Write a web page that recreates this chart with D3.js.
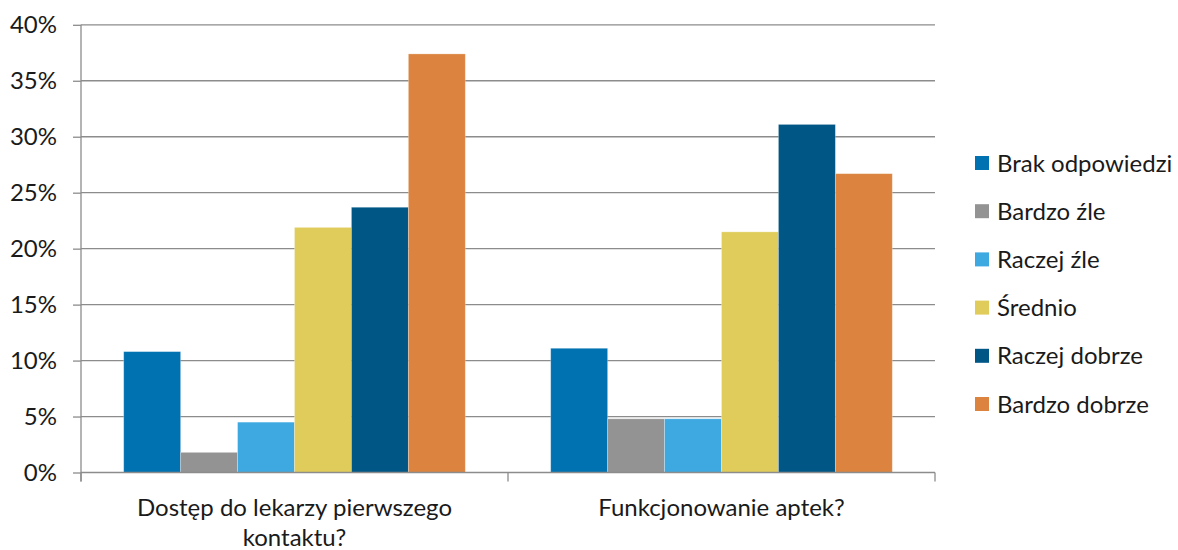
<!DOCTYPE html>
<html><head><meta charset="utf-8">
<script src="https://cdn.jsdelivr.net/npm/d3@7"></script>
<style>body{margin:0;background:#fff}svg{display:block}text{font-family:Lato,"Open Sans",sans-serif;fill:#1a1a1a}</style>
</head><body><svg id="c" width="1178" height="550"></svg>
<script>
const categories = ["Dostęp do lekarzy pierwszego kontaktu?", "Funkcjonowanie aptek?"];
const categoryLines = [["Dostęp do lekarzy pierwszego", "kontaktu?"], ["Funkcjonowanie aptek?"]];
const seriesNames = ["Brak odpowiedzi", "Bardzo źle", "Raczej źle", "Średnio", "Raczej dobrze", "Bardzo dobrze"];
const seriesColors = ["#0071B1", "#939393", "#3EA8E0", "#E0CC5A", "#005685", "#DB833F"];
const valuesDostep = [10.8, 1.8, 4.5, 21.9, 23.7, 37.4];
const valuesApteki = [11.1, 4.8, 4.8, 21.5, 31.1, 26.7];
const yTicks = [0, 5, 10, 15, 20, 25, 30, 35, 40];

const FS = 24;
const values = [valuesDostep, valuesApteki];
const svg = d3.select("#c");
const L = 81, R = 935, T = 24.8, B = 472.5;

const x0 = d3.scaleBand().domain(categories).range([L, R]).paddingInner(0).paddingOuter(0);
const x1 = d3.scaleBand().domain(seriesNames).range([0, x0.bandwidth()]).paddingOuter(0.75).paddingInner(0);
const y = d3.scaleLinear().domain([0, 40]).range([B, T]);

// gridlines
svg.append("g").selectAll("line").data(yTicks.slice(1)).join("line")
  .attr("x1", L).attr("x2", R).attr("y1", d => y(d)).attr("y2", d => y(d))
  .attr("stroke", "#8c8c8c").attr("stroke-width", 1.3);

// bars
categories.forEach((c, ci) => {
  svg.append("g").selectAll("rect").data(values[ci]).join("rect")
    .attr("x", (d, i) => x0(c) + x1(seriesNames[i]))
    .attr("width", x1.bandwidth())
    .attr("y", d => y(d))
    .attr("height", d => B - y(d))
    .attr("fill", (d, i) => seriesColors[i])
    .attr("stroke", "rgba(255,255,255,0.35)").attr("stroke-width", 0.8);
});

// y axis
const ya = svg.append("g").attr("transform", `translate(${L},0)`)
  .call(d3.axisLeft(y).tickValues(yTicks).tickFormat(d => d + "%").tickSize(8).tickPadding(16));
ya.select(".domain").remove();
ya.selectAll(".tick line").attr("stroke", "#8c8c8c").attr("stroke-width", 1.3);
ya.selectAll("text").attr("font-size", FS).style("font-family", "Lato,'Open Sans',sans-serif").attr("fill", "#1a1a1a");
svg.append("line").attr("x1", L).attr("x2", L).attr("y1", T).attr("y2", B + 9)
  .attr("stroke", "#8c8c8c").attr("stroke-width", 1.3);

// x axis
svg.append("line").attr("x1", L).attr("x2", R).attr("y1", B).attr("y2", B)
  .attr("stroke", "#8c8c8c").attr("stroke-width", 1.3);
const xb = [L, ...categories.map(c => x0(c) + x0.bandwidth())];
svg.append("g").selectAll("line").data(xb).join("line")
  .attr("x1", d => d).attr("x2", d => d).attr("y1", B).attr("y2", B + 9)
  .attr("stroke", "#8c8c8c").attr("stroke-width", 1.3);
categories.forEach((c, ci) => {
  const t = svg.append("text").attr("text-anchor", "middle").attr("font-size", FS)
    .attr("x", x0(c) + x0.bandwidth() / 2).attr("y", 516);
  categoryLines[ci].forEach((ln, li) => t.append("tspan").attr("x", x0(c) + x0.bandwidth() / 2).attr("dy", li ? 30 : 0).text(ln));
});

// legend
const lg = svg.append("g");
seriesNames.forEach((s, i) => {
  const yy = 163 + i * 48.2;
  lg.append("rect").attr("x", 975).attr("y", yy - 7).attr("width", 14).attr("height", 14).attr("fill", seriesColors[i]);
  lg.append("text").attr("x", 997).attr("y", yy + 8.5).attr("font-size", FS).text(s);
});
</script></body></html>
